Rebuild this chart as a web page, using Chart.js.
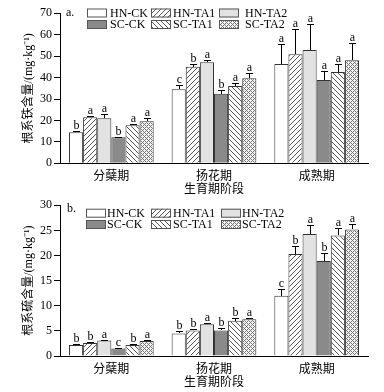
<!DOCTYPE html>
<html><head><meta charset="utf-8">
<script src="https://cdn.jsdelivr.net/npm/chart.js@4.4.0/dist/chart.umd.min.js"></script>
<style>
html,body{margin:0;padding:0;background:#fff;}
#wrap{width:384px;height:392px;position:relative;background:#fff;}
canvas{display:block;}
</style></head><body>
<div id="wrap">
<canvas id="c1" width="384" height="196"></canvas>
<canvas id="c2" width="384" height="196"></canvas>
</div>
<script>
// ---------- data ----------
const stages = ['分蘖期', '扬花期', '成熟期'];
const seriesNames = ['HN-CK', 'HN-TA1', 'HN-TA2', 'SC-CK', 'SC-TA1', 'SC-TA2'];

// a. root Fe content (mg·kg-1)
const feHNCK  = [14.5, 34.5, 46.3];
const feHNTA1 = [21.5, 45.1, 50.9];
const feHNTA2 = [21.0, 47.1, 52.9];
const feSCCK  = [12.1, 32.5, 38.9];
const feSCTA1 = [17.7, 36.1, 42.6];
const feSCTA2 = [19.6, 39.7, 48.1];
const feErrHNCK  = [0.6, 2.1, 9.3];
const feErrHNTA1 = [0.8, 1.2, 11.6];
const feErrHNTA2 = [1.9, 1.1, 12.1];
const feErrSCCK  = [0.4, 1.7, 4.2];
const feErrSCTA1 = [0.7, 1.4, 3.6];
const feErrSCTA2 = [1.5, 2.3, 7.9];
const feSigHNCK  = ['b', 'c', 'a'];
const feSigHNTA1 = ['a', 'b', 'a'];
const feSigHNTA2 = ['a', 'a', 'a'];
const feSigSCCK  = ['b', 'b', 'a'];
const feSigSCTA1 = ['a', 'a', 'a'];
const feSigSCTA2 = ['a', 'a', 'a'];

// b. root S content (mg·kg-1)
const sHNCK  = [2.2, 4.5, 12.0];
const sHNTA1 = [2.6, 5.1, 20.3];
const sHNTA2 = [3.1, 6.3, 24.3];
const sSCCK  = [1.5, 5.1, 18.9];
const sSCTA1 = [2.2, 7.0, 24.0];
const sSCTA2 = [3.0, 7.3, 25.2];
const sErrHNCK  = [0.2, 0.4, 1.3];
const sErrHNTA1 = [0.15, 0.3, 1.6];
const sErrHNTA2 = [0.1, 0.2, 1.7];
const sErrSCCK  = [0.15, 0.4, 1.6];
const sErrSCTA1 = [0.2, 0.5, 1.5];
const sErrSCTA2 = [0.1, 0.2, 1.1];
const sSigHNCK  = ['b', 'b', 'c'];
const sSigHNTA1 = ['b', 'b', 'b'];
const sSigHNTA2 = ['a', 'a', 'a'];
const sSigSCCK  = ['c', 'b', 'b'];
const sSigSCTA1 = ['b', 'b', 'a'];
const sSigSCTA2 = ['a', 'a', 'a'];

const feTicks = [0, 10, 20, 30, 40, 50, 60, 70];
const sTicks = [0, 5, 10, 15, 20, 25, 30];

// ---------- fills ----------
function hatch(dir) {
  const s = 5;
  const c = document.createElement('canvas');
  c.width = s; c.height = s;
  const g = c.getContext('2d');
  g.fillStyle = '#fff'; g.fillRect(0, 0, s, s);
  g.strokeStyle = '#444'; g.lineWidth = 0.9;
  g.beginPath();
  if (dir === '/') {
    g.moveTo(-1, s + 1); g.lineTo(s + 1, -1);
    g.moveTo(-1, 1); g.lineTo(1, -1);
    g.moveTo(s - 1, s + 1); g.lineTo(s + 1, s - 1);
  } else {
    g.moveTo(-1, -1); g.lineTo(s + 1, s + 1);
    g.moveTo(s - 1, -1); g.lineTo(s + 1, 1);
    g.moveTo(-1, s - 1); g.lineTo(1, s + 1);
  }
  g.stroke();
  return g.createPattern(c, 'repeat');
}
function cross() {
  const s = 4;
  const c = document.createElement('canvas');
  c.width = s; c.height = s;
  const g = c.getContext('2d');
  g.fillStyle = '#f4f4f4'; g.fillRect(0, 0, s, s);
  g.fillStyle = '#777';
  g.fillRect(0, 0, 1, 1); g.fillRect(2, 2, 1, 1);
  g.fillRect(1, 1, 1, 1); g.fillRect(3, 3, 1, 1);
  g.fillRect(3, 1, 1, 1); g.fillRect(1, 3, 1, 1);
  return g.createPattern(c, 'repeat');
}
const fills = ['#ffffff', hatch('/'), '#e2e2e2', '#8a8a8a', hatch('\\'), cross()];

// ---------- plugins ----------
const SERIF = '"Liberation Serif", "Times New Roman", serif';
const CJK = '"Noto Sans CJK SC", sans-serif';
const MIXED = '"Liberation Serif", "Noto Sans CJK SC", serif';

const errPlugin = {
  id: 'errs',
  afterDatasetsDraw(chart, args, opts) {
    const ctx = chart.ctx;
    const y = chart.scales.y;
    ctx.save();
    ctx.strokeStyle = '#000'; ctx.lineWidth = 1;
    ctx.fillStyle = '#000';
    ctx.font = '12px ' + SERIF;
    ctx.textAlign = 'center'; ctx.textBaseline = 'alphabetic';
    chart.data.datasets.forEach((ds, di) => {
      const meta = chart.getDatasetMeta(di);
      meta.data.forEach((bar, i) => {
        const v = ds.data[i];
        const e = ds.errors[i];
        const x = Math.round(bar.x) + 0.5;
        const yt = Math.round(y.getPixelForValue(v + e)) + 0.5;
        const yb = Math.round(y.getPixelForValue(v));
        ctx.beginPath();
        ctx.moveTo(x, yb); ctx.lineTo(x, yt);
        ctx.moveTo(x - 3.5, yt); ctx.lineTo(x + 3.5, yt);
        ctx.stroke();
        ctx.fillText(ds.sig[i], x, yt - 2.5);
      });
    });
    ctx.restore();
  }
};

const legendPlugin = {
  id: 'customLegend',
  afterDraw(chart, args, opts) {
    const ctx = chart.ctx;
    ctx.save();
    ctx.font = '12px ' + SERIF;
    ctx.textBaseline = 'middle'; ctx.textAlign = 'left';
    const cols = opts.cols;
    chart.data.datasets.forEach((ds, i) => {
      const col = i % 3, row = Math.floor(i / 3);
      const x = cols[col][0];
      const tx = cols[col][1];
      const y = opts.rows[row];
      ctx.fillStyle = ds.backgroundColor;
      ctx.fillRect(x, y, 20, 9);
      ctx.strokeStyle = '#555'; ctx.lineWidth = 1;
      ctx.strokeRect(x + 0.5, y + 0.5, 19, 8);
      ctx.fillStyle = '#000';
      ctx.fillText(ds.label, tx, y + 5);
    });
    ctx.font = '12px ' + SERIF;
    ctx.fillText(opts.tag, opts.tagX, opts.tagY);
    ctx.restore();
  }
};

function makeChart(id, vals, errs, sigs, ticks, ymax, yTitle, leg, padTop, xTitlePad) {
  const datasets = seriesNames.map((n, i) => ({
    label: n,
    data: vals[i],
    errors: errs[i],
    sig: sigs[i],
    backgroundColor: fills[i],
    borderColor: '#333',
    borderWidth: 1,
    borderSkipped: 'bottom',
    categoryPercentage: 0.825,
    barPercentage: 1.0
  }));
  return new Chart(document.getElementById(id), {
    type: 'bar',
    data: { labels: stages, datasets },
    options: {
      responsive: false,
      animation: false,
      devicePixelRatio: 1,
      layout: { padding: { top: padTop, right: 16, bottom: 0, left: 0 } },
      plugins: {
        legend: { display: false },
        tooltip: { enabled: false },
        customLegend: leg
      },
      scales: {
        x: {
          grid: { display: false, drawTicks: false },
          border: { display: true, color: '#000', width: 1 },
          ticks: { color: '#000', font: { family: CJK, size: 12 }, padding: 5 },
          title: { display: true, text: '生育期阶段', color: '#000',
                   font: { family: CJK, size: 12, lineHeight: 1 },
                   padding: { top: 0, bottom: xTitlePad } },
          afterFit(s) { s.height = (196 - padTop) - (ymax === 70 ? 150 : 150.7); }
        },
        y: {
          min: 0, max: ymax,
          afterBuildTicks(s) { s.ticks = ticks.map(v => ({ value: v })); },
          grid: { display: true, drawOnChartArea: false, drawTicks: true, tickLength: 6, color: '#000' },
          border: { display: true, color: '#000', width: 1 },
          ticks: { color: '#000', font: { family: SERIF, size: 12 }, padding: 2 },
          title: { display: true, text: yTitle, color: '#000',
                   font: { family: MIXED, size: 12, lineHeight: 1 },
                   padding: { top: 23, bottom: 0 } },
          afterFit(s) { s.width = 60; }
        }
      }
    },
    plugins: [errPlugin, legendPlugin]
  });
}

makeChart('c1',
  [feHNCK, feHNTA1, feHNTA2, feSCCK, feSCTA1, feSCTA2],
  [feErrHNCK, feErrHNTA1, feErrHNTA2, feErrSCCK, feErrSCTA1, feErrSCTA2],
  [feSigHNCK, feSigHNTA1, feSigHNTA2, feSigSCCK, feSigSCTA1, feSigSCTA2],
  feTicks, 70, '根系铁含量/(mg·kg⁻¹)',
  { cols: [[87, 110], [151, 173], [219, 245]], rows: [8.5, 20], tag: 'a.', tagX: 66, tagY: 13 },
  13.3, 2);

makeChart('c2',
  [sHNCK, sHNTA1, sHNTA2, sSCCK, sSCTA1, sSCTA2],
  [sErrHNCK, sErrHNTA1, sErrHNTA2, sErrSCCK, sErrSCTA1, sErrSCTA2],
  [sSigHNCK, sSigHNTA1, sSigHNTA2, sSigSCCK, sSigSCTA1, sSigSCTA2],
  sTicks, 30, '根系硫含量/(mg·kg⁻¹)',
  { cols: [[86, 107], [151, 173], [221, 242]], rows: [12.7, 24], tag: 'b.', tagX: 67, tagY: 13 },
  9.3, 5);
</script>
</body></html>
